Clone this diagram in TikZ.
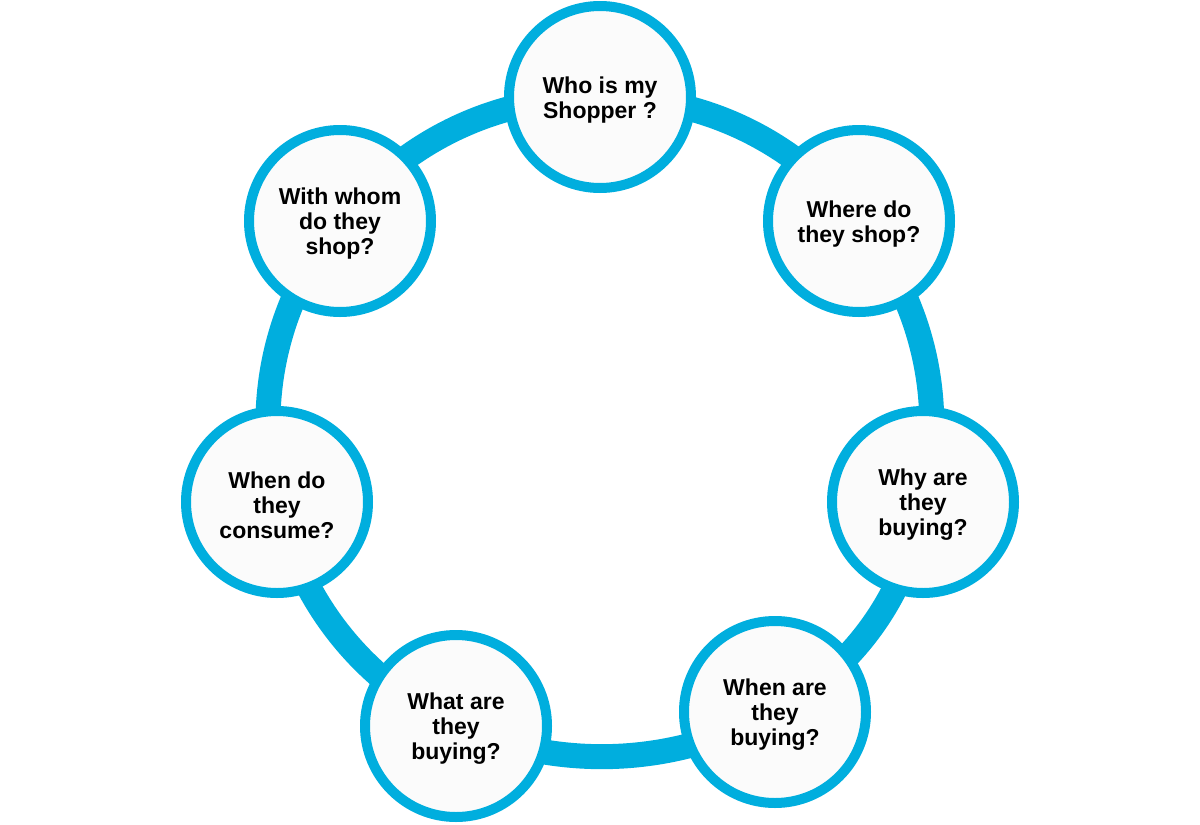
\documentclass[tikz,border=0pt]{standalone}
\usepackage{fontspec}
\setmainfont{Liberation Sans}
\usetikzlibrary{backgrounds}
\definecolor{ringblue}{RGB}{0,174,222}
\definecolor{discfill}{RGB}{251,251,251}
\begin{document}
\begin{tikzpicture}[x=1pt,y=1pt,
  disc/.style={circle, draw=ringblue, line width=10pt, fill=discfill,
    minimum size=182pt, inner sep=0pt},
  disctext/.style={align=center, inner sep=0pt, yshift=-3pt,
    font=\fontsize{23}{25}\selectfont\bfseries},
  ringseg/.style={draw=ringblue, line width=25pt, bend left=25.7, looseness=0.92}]
\useasboundingbox (0,0) rectangle (1200,-825);
\node[disc, label={[disctext]center:Who is my\\Shopper ?}]   (who)   at (600,-97)  {};
\node[disc, label={[disctext]center:Where do\\they shop?}]   (where) at (859,-221) {};
\node[disc, label={[disctext]center:Why are\\they\\buying?}] (why)   at (923,-502) {};
\node[disc, label={[disctext]center:When are\\they\\buying?}] (whenb) at (775,-712) {};
\node[disc, label={[disctext]center:What are\\they\\buying?}] (what)  at (456,-726) {};
\node[disc, label={[disctext]center:When do\\they\\consume?}] (whenc) at (277,-502) {};
\node[disc, label={[disctext]center:With whom\\do they\\shop?}] (whom) at (340,-221) {};
\begin{scope}[on background layer]
\draw[ringseg] (who.center) to (where.center);
\draw[ringseg] (where.center) to (why.center);
\draw[ringseg] (why.center) to (whenb.center);
\draw[ringseg] (whenb.center) to (what.center);
\draw[ringseg] (what.center) to (whenc.center);
\draw[ringseg] (whenc.center) to (whom.center);
\draw[ringseg] (whom.center) to (who.center);
\end{scope}
\end{tikzpicture}
\end{document}
